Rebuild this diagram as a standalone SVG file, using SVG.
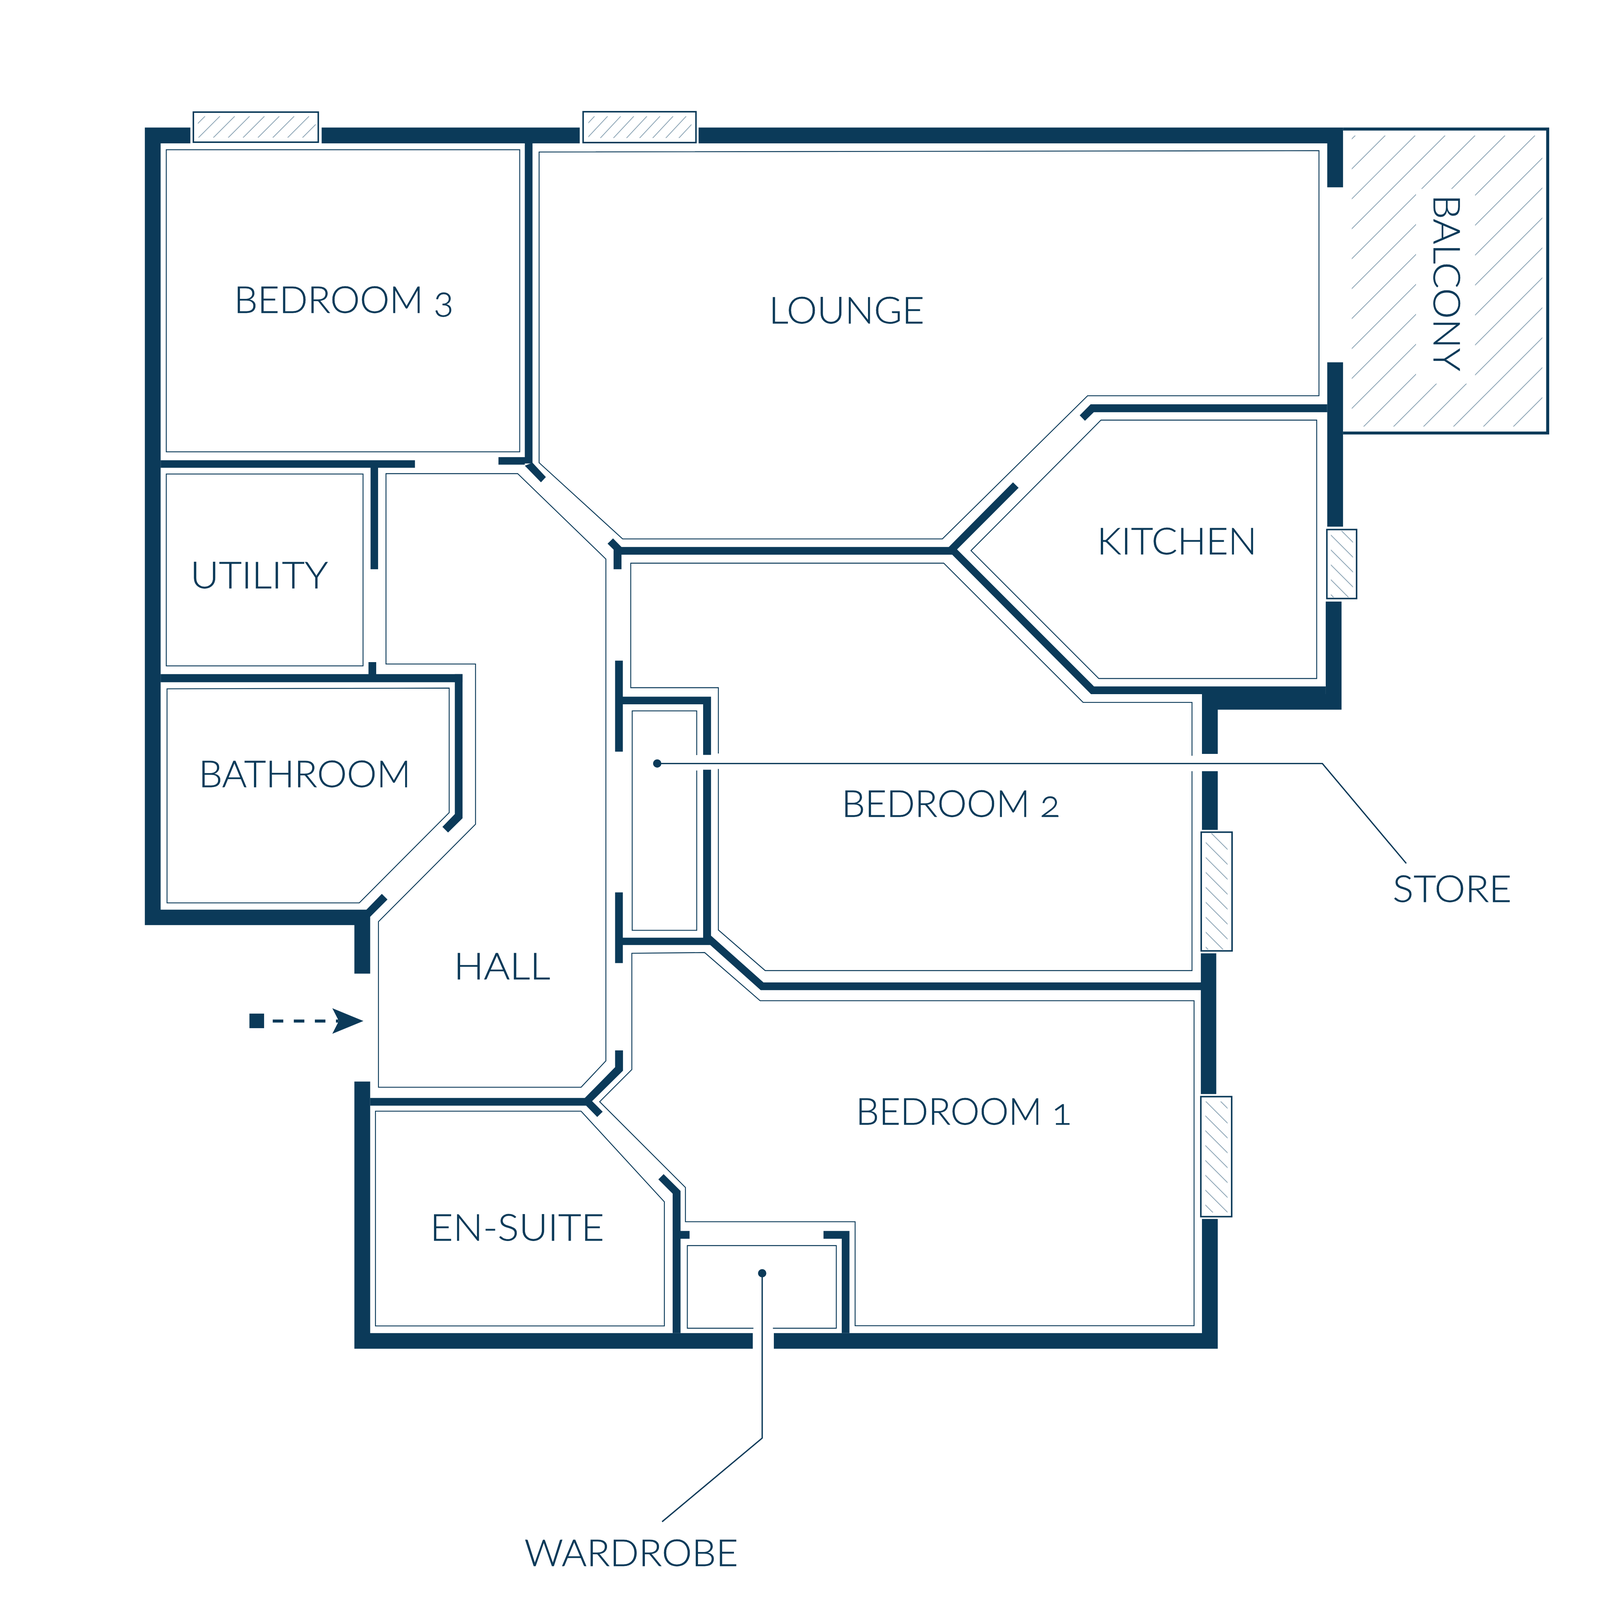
<svg xmlns="http://www.w3.org/2000/svg" width="4253" height="4253" viewBox="0 0 4253 4253">
<!-- The sandbox photographs only the first 4096x4096 px of the page. The scale on #plan (4096/4253) keeps the whole plan in that picture. Remove that one transform to get true reference coordinates in a real 4253 window. -->
<style>
.w{fill:#0b3a59;stroke:none}
.t{fill:none;stroke:#0b3a59;stroke-width:2.4}
.g{fill:#fff;stroke:#0b3a59;stroke-width:4}
.h{fill:none;stroke:#8fa7b7;stroke-width:2.2}
.l{fill:none;stroke:#0b3a59;stroke-width:3.5}
text{font-family:"Lato","Liberation Sans",sans-serif;font-weight:300;font-size:98px;fill:#0b3a59;stroke:#0b3a59;stroke-width:.8;font-feature-settings:"onum"}
</style>
<defs>
<clipPath id="cb"><path clip-rule="evenodd" d="M3593,360H4100V1134H3593Z M3764,502H3921V1020H3764Z"/></clipPath>
<clipPath id="c1"><rect x="526" y="309" width="313" height="57"/></clipPath>
<clipPath id="c2"><rect x="1564" y="309" width="274" height="58"/></clipPath>
<clipPath id="c3"><rect x="3537.7" y="1411" width="58.8" height="177"/></clipPath>
<clipPath id="c4"><rect x="3205" y="2215" width="58" height="309"/></clipPath>
<clipPath id="c5"><rect x="3204" y="2927.5" width="59" height="295.5"/></clipPath>
</defs>
<g id="plan" transform="scale(0.96308)">
<g id="walls">
<path class="w" d="M385,339H506V381H385Z M855,339H1541V381H855Z M1857,339H3570V381H1857Z M385,339H427V2459H385Z M3528,339H3570V498H3528Z M3528,963H3570V1400H3528Z M3524,1599H3566V1886.5H3524Z M3196,1845H3566V1886.5H3196Z M3195,1845H3237V2004H3195Z M3195,2050H3237V2206H3195Z M3192,2534H3233V2908H3192Z M3195,3240H3237V3585H3195Z M942,3543.6H2001V3585H942Z M2057,3543.6H3237V3585H2057Z M942,2875H984V3585H942Z M385,2418H984V2459H385Z M942,2418H984V2588H942Z"/>
<path class="w" d="M974,2418L1015,2376L1030,2391L984,2437Z"/>
<path class="w" d="M427,1223.5H1103V1243.5H427Z M985,1223.5H1005V1513H985Z M1395,381H1415.5V1232H1395Z M1325,1215H1395V1235H1325Z"/>
<path class="w" d="M1395,1238L1415.5,1230L1451,1268L1438,1282Z"/>
<path class="w" d="M427,1792H1229.5V1813.4H427Z M979.5,1760H1000V1792H979.5Z"/>
<path class="w" d="M1209,1792H1229.5V2175L1191,2213L1176,2198L1209,2164Z"/>
<path class="w" d="M1652,1454H2522L2692.7,1282L2707.6,1296.5L2544,1460.5L2908,1824.6H3524V1845H2900L2531,1474.5H1652V1513H1631V1461L1615,1445L1629.5,1431Z"/>
<path class="w" d="M2884,1118.6L2870,1104L2899,1074.6H3528V1095.7H2907.5Z"/>
<path class="w" d="M1635,1756H1655.6V1998H1635Z M1655,1852H1890V1872H1655Z M1869,1852H1890V2006.5H1869Z M1869,2046H1890V2512H1869Z M1635,2372H1655.6V2560H1635Z M1655,2492.4H1870V2512H1655Z"/>
<path class="w" d="M1890,2487L2029.5,2611.5H3195V2632H2022L1888,2512Z"/>
<path class="w" d="M1635,2792H1656V2846L1574,2927L1602,2955L1587.5,2969L1558,2939H984V2918.5H1554.5L1635,2836.7Z"/>
<path class="w" d="M1764,3121L1809,3165.6V3543.6H1788V3173L1750,3135Z M1809,3272H1833V3292.7H1809Z M2189,3272H2258V3292.7H2189Z M2237.5,3272H2258V3543.6H2237.5Z"/>
</g>
<g id="room-bedroom-3"><rect class="t" x="442" y="398" width="939.5" height="803"/><text x="622" y="832" textLength="584" lengthAdjust="spacingAndGlyphs">BEDROOM 3</text></g>
<g id="room-lounge"><path class="t" d="M1433,404L3506,400.5V1052H2891L2505,1432.5H1655L1433,1230Z"/><text x="2044" y="860" textLength="413" lengthAdjust="spacingAndGlyphs">LOUNGE</text></g>
<g id="room-hall"><path class="t" d="M1026,1259H1376L1610.5,1486V2820L1544.6,2890H1006V2450L1264,2191V1765H1026Z"/><text x="1206" y="2603" textLength="256.5" lengthAdjust="spacingAndGlyphs">HALL</text></g>
<g id="room-utility"><rect class="t" x="442" y="1260" width="523" height="510"/><text x="506" y="1564" textLength="366" lengthAdjust="spacingAndGlyphs">UTILITY</text></g>
<g id="room-bathroom"><path class="t" d="M444,1831L1194,1829V2160L955,2400H444Z"/><text x="528" y="2092" textLength="564" lengthAdjust="spacingAndGlyphs">BATHROOM</text></g>
<g id="room-kitchen"><path class="t" d="M2926.5,1116.7H3500V1803.6H2920.7L2581,1463.6Z"/><text x="2916" y="1473" textLength="425" lengthAdjust="spacingAndGlyphs">KITCHEN</text></g>
<g id="room-bedroom-2"><path class="t" d="M1909.5,2003V1828H1676.6V1497H2508.6L2879,1867H3168.5V2009"/><path class="t" d="M3168.5,2050V2580H2034L1909.5,2472V2044"/><text x="2237" y="2171" textLength="581" lengthAdjust="spacingAndGlyphs">BEDROOM 2</text></g>
<g id="room-store"><path class="t" d="M1852,2007V1889.6H1680.5V2473H1852V2048"/><text x="3702" y="2397" textLength="316" lengthAdjust="spacingAndGlyphs">STORE</text></g>
<g id="room-bedroom-1"><path class="t" d="M1679.5,2534L1873,2532L2020.5,2660H3174V3524H2273V3247.5H1822V3156.5L1594,2928.5L1679.5,2843Z"/><text x="2275" y="2989" textLength="574" lengthAdjust="spacingAndGlyphs">BEDROOM 1</text></g>
<g id="room-en-suite"><path class="t" d="M998,2953.7H1544.6L1766,3194.7V3524.5H998Z"/><text x="1143" y="3298" textLength="463" lengthAdjust="spacingAndGlyphs">EN-SUITE</text></g>
<g id="room-wardrobe"><path class="t" d="M2002.7,3530.6H1827V3311H2223V3530.6H2054.5"/><text x="1394" y="4163" textLength="568" lengthAdjust="spacingAndGlyphs">WARDROBE</text></g>
<g id="balcony">
<path d="M3570,343H4114V1151H3570" fill="none" stroke="#0b3a59" stroke-width="8"/>
<path class="h" clip-path="url(#cb)" d="M3602.6,360l-774,774M3682.2,360l-774,774M3761.8,360l-774,774M3841.4,360l-774,774M3921,360l-774,774M4000.6,360l-774,774M4080.2,360l-774,774M4159.8,360l-774,774M4239.4,360l-774,774M4319,360l-774,774M4398.6,360l-774,774M4478.2,360l-774,774M4557.8,360l-774,774M4637.4,360l-774,774M4717,360l-774,774M4796.6,360l-774,774"/>
<text transform="translate(3811,517) rotate(90)" textLength="470" lengthAdjust="spacingAndGlyphs">BALCONY</text>
</g>
<g id="windows">
<rect class="g" x="514" y="298" width="332" height="80"/>
<path class="h" clip-path="url(#c1)" d="M545,309l-57,57M584.5,309l-57,57M624,309l-57,57M663.5,309l-57,57M703,309l-57,57M742.5,309l-57,57M782,309l-57,57M821.5,309l-57,57M861,309l-57,57"/>
<rect class="g" x="1550" y="297" width="300" height="82"/>
<path class="h" clip-path="url(#c2)" d="M1580.4,309l-54.3,58M1615.2,309l-54.3,58M1650,309l-54.3,58M1684.8,309l-54.3,58M1719.6,309l-54.3,58M1754.4,309l-54.3,58M1789.2,309l-54.3,58M1824,309l-54.3,58M1858.8,309l-54.3,58"/>
<rect class="g" x="3527" y="1407.6" width="79" height="183.4"/>
<path class="h" clip-path="url(#c3)" d="M3566,1411l177,177M3526.4,1411l177,177M3486.8,1411l177,177M3447.2,1411l177,177M3407.6,1411l177,177M3368,1411l177,177M3328.4,1411l177,177"/>
<rect class="g" x="3193" y="2212" width="82" height="315.6"/>
<path class="h" clip-path="url(#c4)" d="M3220,2215l309,309M3180.3,2215l309,309M3140.6,2215l309,309M3100.9,2215l309,309M3061.2,2215l309,309M3021.5,2215l309,309M2981.8,2215l309,309M2942.1,2215l309,309M2902.4,2215l309,309"/>
<rect class="g" x="3192" y="2915" width="82" height="319"/>
<path class="h" clip-path="url(#c5)" d="M3244.5,2927.5l296,296M3205,2927.5l296,296M3165.5,2927.5l296,296M3126,2927.5l296,296M3086.5,2927.5l296,296M3047,2927.5l296,296M3007.5,2927.5l296,296M2968,2927.5l296,296M2928.5,2927.5l296,296"/>
</g>
<g id="connectors">
<circle cx="1747" cy="2029.5" r="11" fill="#0b3a59"/>
<path class="l" d="M1747,2029.5H3515L3738,2295"/>
<circle cx="2026" cy="3384.5" r="11" fill="#0b3a59"/>
<path class="l" d="M2026,3384.5V3822.7L1760,4045"/>
<rect class="w" x="663" y="2694.3" width="39" height="38.7"/>
<path d="M725,2714H900" fill="none" stroke="#0b3a59" stroke-width="8" stroke-dasharray="28 28"/>
<path class="w" d="M883.3,2680L966,2714L883.3,2748L900.7,2714Z"/>
</g>
</g>
</svg>
